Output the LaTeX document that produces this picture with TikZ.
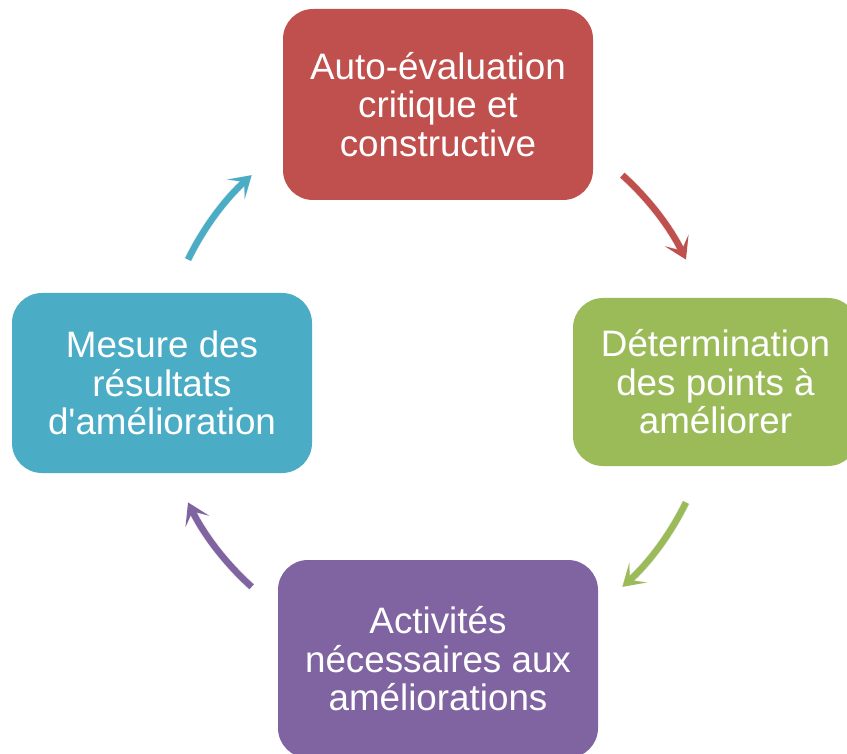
\documentclass[tikz,border=0pt]{standalone}
\usepackage{fontspec}
\setmainfont{Liberation Sans}[Ligatures=TeXOff]
\usetikzlibrary{arrows.meta}
\definecolor{cRed}{HTML}{C0504D}
\definecolor{cGreen}{HTML}{9BBB59}
\definecolor{cPurple}{HTML}{8064A2}
\definecolor{cTeal}{HTML}{4BACC6}
\begin{document}
\begin{tikzpicture}[x=1pt,y=1pt,
  stepbox/.style={rounded corners=30pt, inner sep=0pt, align=center,
    text=white, font=\fontsize{36.8}{38.5}\selectfont},
  cyclearrow/.style={line width=6.5pt,
    -{Stealth[length=21pt,width=26pt,inset=11pt]}},
  arrowshadow/.style={line width=8pt, black, opacity=0.07,
    -{Stealth[length=22pt,width=28pt,inset=11pt]}, shift={(2,-3)}}]
\useasboundingbox (0,0) rectangle (847,-754);

% the four steps of the cycle
\node[stepbox, fill=cRed, minimum width=310pt, minimum height=191pt] (eval)
  at (438,-104.5) {Auto-évaluation\\critique et\\constructive};
\node[stepbox, fill=cGreen, minimum width=285pt, minimum height=168pt] (points)
  at (715.5,-382) {Détermination\\des points à\\améliorer};
\node[stepbox, fill=cPurple, minimum width=320pt, minimum height=198pt] (activ)
  at (438,-659) {Activités\\nécessaires aux\\améliorations};
\node[stepbox, fill=cTeal, minimum width=300pt, minimum height=180pt] (mesure)
  at (162,-383) {Mesure des\\résultats\\d'amélioration};

% curved arrows lie on one circle around the centre of the cycle
\coordinate (c) at (437,-381);
\path (c) ++(48:277) coordinate (a1);
\path (c) ++(-26:277) coordinate (a2);
\path (c) ++(-132:277) coordinate (a3);
\path (c) ++(154:277) coordinate (a4);

\draw[arrowshadow] (a1) arc[start angle=48, end angle=26, radius=277];
\draw[arrowshadow] (a2) arc[start angle=-26, end angle=-48, radius=277];
\draw[arrowshadow] (a3) arc[start angle=-132, end angle=-154, radius=277];
\draw[arrowshadow] (a4) arc[start angle=154, end angle=132, radius=277];

\draw[cyclearrow, cRed] (a1) arc[start angle=48, end angle=26, radius=277];
\draw[cyclearrow, cGreen] (a2) arc[start angle=-26, end angle=-48, radius=277];
\draw[cyclearrow, cPurple] (a3) arc[start angle=-132, end angle=-154, radius=277];
\draw[cyclearrow, cTeal] (a4) arc[start angle=154, end angle=132, radius=277];
\end{tikzpicture}
\end{document}
